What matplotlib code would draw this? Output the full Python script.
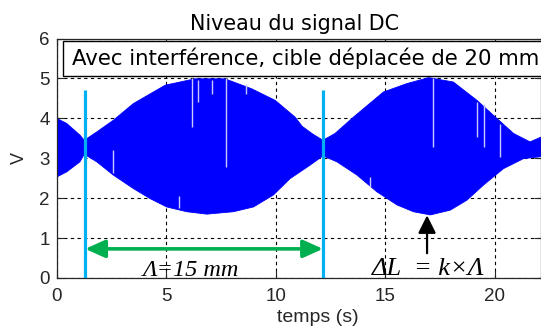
import numpy as np
import matplotlib
matplotlib.use("Agg")
import matplotlib.pyplot as plt
from matplotlib.patches import Rectangle

# ---- data ----
# upper envelope of the DC signal (time s, volts)
upper_t = [0.0, 0.46, 1.06, 1.26, 1.83, 2.58, 3.5, 4.95, 6.31, 7.68, 8.9, 9.97,
           10.88, 11.2, 11.7, 12.15, 12.7, 13.54, 14.91, 15.98, 16.97, 18.1,
           19.18, 19.94, 20.85, 21.6, 22.1]
upper_v = [4.00, 3.87, 3.58, 3.45, 3.66, 3.95, 4.37, 4.83, 4.99, 4.99, 4.74, 4.45,
           4.03, 3.80, 3.60, 3.45, 3.62, 4.03, 4.66, 4.87, 5.02, 4.91,
           4.45, 4.07, 3.62, 3.41, 3.53]
# lower envelope
lower_t = [0.0, 0.46, 1.06, 1.26, 1.83, 2.58, 3.5, 4.26, 5.02, 5.94, 6.85, 8.06,
           8.98, 9.89, 10.65, 11.57, 12.15, 12.79, 13.7, 14.61, 15.53, 16.28,
           17.05, 17.96, 18.72, 19.48, 20.39, 21.3, 22.1]
lower_v = [2.53, 2.66, 2.91, 3.10, 2.91, 2.58, 2.24, 1.99, 1.78, 1.66, 1.60, 1.66,
           1.78, 2.08, 2.49, 2.83, 3.06, 2.91, 2.58, 2.16, 1.83, 1.66,
           1.58, 1.70, 1.95, 2.33, 2.74, 2.99, 3.04]
# light dropout streaks inside the signal (time, low, high)
glitch_t = [2.58, 5.58, 6.16, 6.47, 7.07, 7.72, 8.63, 14.3, 17.15, 19.18, 19.48, 20.24]
glitch_lo = [2.62, 1.75, 3.78, 4.40, 4.60, 2.78, 4.60, 2.28, 3.28, 3.53, 3.28, 3.03]
glitch_hi = [3.20, 2.05, 5.00, 4.97, 4.95, 5.00, 4.85, 2.53, 5.00, 4.41, 4.37, 3.87]

marker_t = [1.3, 12.15]          # cyan vertical markers
marker_top = 4.7
lambda_arrow_y = 0.73
peak_t = 16.9                    # black arrow position
peak_arrow = [0.62, 1.57]

xticks = [0, 5, 10, 15, 20]
yticks = [0, 1, 2, 3, 4, 5, 6]
title = "Niveau du signal DC"
legend_text = "Avec interférence, cible déplacée de 20 mm"
xlabel = "temps (s)"
ylabel = "V"

# ---- figure ----
plt.rcParams['font.family'] = ['Liberation Sans', 'DejaVu Sans']
W, H = 541, 330
fig = plt.figure(figsize=(W / 100, H / 100), dpi=100)
left = 56.7 / W
bottom = (H - 278) / H
top = (H - 38.5) / H
ax = fig.add_axes([left, bottom, 1.0 - left, top - bottom])

ink = '#262626'
ax.set_xlim(0, 22.1)
ax.set_ylim(0, 6)
ax.set_xticks(xticks)
ax.set_yticks(yticks)
ax.tick_params(axis='both', direction='in', length=5, width=0.8, colors=ink,
               labelsize=13.5, top=True, right=True)
ax.tick_params(axis='x', pad=7)
ax.tick_params(axis='y', pad=5)
for s in ax.spines.values():
    s.set_color(ink)
    s.set_linewidth(0.9)
ax.grid(True, color='black', linestyle=(0, (3, 3)), linewidth=0.8)
ax.set_axisbelow(True)

# signal envelope
poly_t = np.concatenate([upper_t, lower_t[::-1]])
poly_v = np.concatenate([upper_v, lower_v[::-1]])
ax.fill(poly_t, poly_v, color='#0000FF', lw=0.6, zorder=2)
ax.vlines(glitch_t, glitch_lo, glitch_hi, colors='#C8C8FF', lw=1.0, zorder=2.5)

# cyan markers
ax.vlines(marker_t, 0, marker_top, colors='#00B0F0', lw=2.3, zorder=3)

# green double arrow
ax.annotate('', xy=(marker_t[0], lambda_arrow_y), xytext=(marker_t[1], lambda_arrow_y),
            arrowprops=dict(arrowstyle='<|-|>,head_length=0.6,head_width=0.27',
                            color='#00B050', lw=2.6, mutation_scale=20,
                            shrinkA=0, shrinkB=0), zorder=4)

# black arrow
ax.annotate('', xy=(peak_t, peak_arrow[1]), xytext=(peak_t, peak_arrow[0]),
            arrowprops=dict(arrowstyle='-|>,head_length=0.6,head_width=0.3',
                            color='black', lw=1.6, mutation_scale=18,
                            shrinkA=0, shrinkB=0), zorder=4)

ax.text(6.15, 0.04, "Λ=15 mm", family=['Liberation Serif', 'DejaVu Serif'],
        style='italic', fontsize=17.5, ha='center', va='baseline', color='black', zorder=5)
ax.text(16.97, 0.075, "ΔL  = k×Λ", family=['Liberation Serif', 'DejaVu Serif'],
        style='italic', fontsize=19, ha='center', va='baseline', color='black', zorder=5)

# legend-like box
ax.add_patch(Rectangle((0.27, 5.05), 30, 0.89, facecolor='white', edgecolor='black',
                       lw=1.0, zorder=6, clip_on=True))
ax.text(0.72, 5.34, legend_text, fontsize=15.3, family=['DejaVu Sans'],
        ha='left', va='baseline', color='black', zorder=7)

ax.set_title(title, fontsize=14.9, family=['DejaVu Sans'], color='black', pad=6)
ax.title.set_position((0.49, 1.0))
ax.set_xlabel(xlabel, fontsize=14, color=ink)
ax.xaxis.set_label_coords(0.54, -0.13)
ax.set_ylabel(ylabel, fontsize=13, color=ink, labelpad=8)

fig.savefig('out.png', dpi=100)
